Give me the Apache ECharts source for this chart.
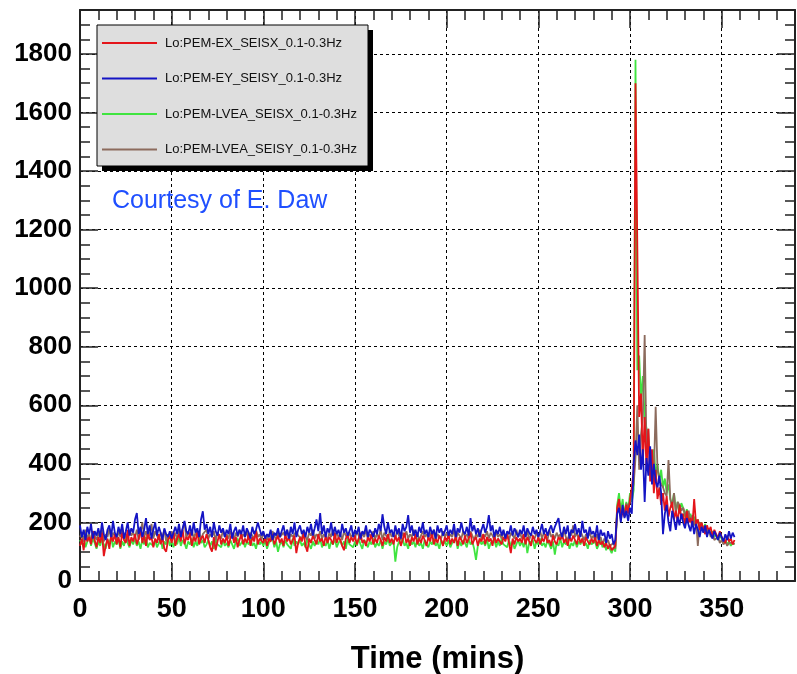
<!DOCTYPE html>
<html>
<head>
<meta charset="utf-8">
<script src="https://cdn.jsdelivr.net/npm/echarts@6/dist/echarts.min.js"></script>
<style>
  html, body { margin: 0; padding: 0; background: #fff; }
  #chart { width: 797px; height: 674px; }
</style>
</head>
<body>
<div id="chart"></div>
<script>
  // one reading per minute, t = 0 .. 357
  const seriesNames = [
    'Lo:PEM-EX_SEISX_0.1-0.3Hz',
    'Lo:PEM-EY_SEISY_0.1-0.3Hz',
    'Lo:PEM-LVEA_SEISX_0.1-0.3Hz',
    'Lo:PEM-LVEA_SEISY_0.1-0.3Hz',
  ];

  const exSeisX = [
    120, 145, 105, 160, 135, 150, 125, 170, 140, 115,
    150, 130, 165, 85, 120, 145, 110, 155, 135, 160,
    125, 150, 115, 165, 140, 130, 175, 120, 150, 135,
    160, 125, 145, 180, 130, 155, 120, 165, 140, 150,
    115, 145, 130, 160, 125, 150, 110, 100, 140, 155,
    130, 165, 120, 145, 160, 135, 175, 125, 150, 140,
    165, 120, 150, 135, 170, 125, 145, 155, 130, 160,
    140, 115, 100, 150, 105, 135, 160, 125, 145, 130,
    155, 120, 145, 165, 130, 150, 115, 140, 160, 125,
    145, 130, 160, 120, 150, 135, 170, 125, 145, 140,
    130, 150, 120, 145, 135, 160, 125, 140, 155, 130,
    145, 120, 160, 135, 150, 125, 140, 155, 95, 130,
    150, 135, 165, 120, 100, 145, 130, 155, 140, 125,
    160, 135, 145, 120, 155, 130, 150, 140, 125, 165,
    130, 150, 140, 120, 105, 145, 160, 130, 150, 135,
    155, 125, 145, 165, 130, 140, 120, 150, 135, 160,
    125, 145, 130, 155, 140, 120, 150, 135, 160, 130,
    145, 125, 155, 135, 150, 120, 140, 165, 130, 145,
    120, 150, 135, 160, 125, 145, 130, 155, 140, 120,
    150, 135, 165, 125, 145, 130, 155, 140, 120, 150,
    135, 160, 125, 145, 130, 155, 120, 150, 140, 125,
    155, 130, 145, 165, 125, 140, 150, 120, 145, 135,
    160, 125, 150, 135, 145, 120, 155, 130, 145, 140,
    125, 150, 135, 160, 130, 95, 145, 125, 150, 135,
    145, 130, 160, 125, 150, 135, 120, 155, 140, 130,
    150, 125, 145, 135, 160, 130, 140, 120, 155, 135,
    125, 150, 140, 160, 130, 145, 120, 150, 135, 155,
    140, 125, 155, 130, 145, 120, 150, 135, 125, 145,
    130, 150, 120, 140, 125, 135, 115, 130, 110, 125,
    105, 100, 120, 250, 280, 210, 240, 220, 260, 230,
    280, 320, 380, 1700, 1140, 560, 640, 400, 560, 380,
    520, 340, 450, 300, 380, 280, 320, 260, 300, 240,
    290, 220, 250, 270, 210, 240, 200, 260, 215, 230,
    190, 240, 200, 215, 185, 280, 195, 210, 175, 200,
    180, 160, 190, 170, 185, 150, 175, 160, 145, 170,
    150, 140, 130, 155, 135, 145, 125, 140,
  ];

  const eySeisY = [
    190, 150, 175, 140, 185, 160, 195, 145, 170, 155,
    180, 150, 200, 160, 140, 175, 190, 150, 205, 165,
    150, 185, 160, 195, 145, 170, 200, 155, 180, 165,
    210, 232, 160, 185, 150, 175, 215, 160, 190, 145,
    175, 200, 155, 185, 165, 140, 180, 160, 150, 170,
    145, 165, 185, 160, 195, 150, 180, 205, 170, 160,
    190, 155, 200, 165, 180, 150, 210, 238, 175, 195,
    160, 185, 150, 200, 170, 155, 190, 165, 180, 150,
    175, 160, 195, 145, 170, 185, 155, 175, 160, 190,
    150, 180, 165, 145, 185, 160, 175, 200, 195, 155,
    170, 145, 160, 150, 175, 140, 165, 155, 180, 150,
    170, 190, 155, 175, 145, 185, 160, 200, 150, 175,
    190, 160, 175, 150, 185, 165, 195, 155, 180, 210,
    170, 232, 160, 190, 150, 180, 165, 200, 155, 185,
    160, 175, 150, 195, 165, 180, 155, 170, 190, 150,
    175, 160, 185, 145, 170, 160, 190, 150, 175, 165,
    150, 180, 160, 195, 170, 228, 185, 160, 200, 165,
    175, 150, 190, 160, 180, 145, 195, 170, 185, 225,
    165, 190, 155, 175, 150, 185, 165, 200, 160, 175,
    150, 185, 160, 175, 145, 190, 165, 180, 155, 170,
    190, 155, 175, 160, 195, 150, 180, 165, 200, 170,
    160, 185, 155, 215, 170, 190, 160, 180, 150, 175,
    195, 165, 185, 225, 170, 190, 150, 175, 160, 185,
    155, 175, 145, 170, 160, 190, 155, 180, 165, 150,
    175, 160, 190, 150, 180, 165, 155, 185, 160, 175,
    150, 170, 195, 160, 180, 155, 175, 190, 165, 185,
    200, 215, 170, 150, 185, 160, 190, 145, 175, 165,
    195, 160, 180, 150, 205, 165, 175, 145, 185, 160,
    170, 150, 190, 140, 175, 155, 165, 130, 170, 145,
    160, 125, 140, 230, 250, 200, 260, 215, 240, 205,
    250, 230, 400, 480, 430, 500, 380, 450, 270, 420,
    360, 460, 330, 400, 340, 320, 360, 300, 160, 230,
    260, 200, 170, 240, 210, 175, 220, 190, 230, 200,
    180, 215, 190, 170, 205, 160, 195, 175, 150, 185,
    165, 190, 150, 175, 160, 145, 170, 155, 140, 165,
    150, 135, 160, 140, 170, 145, 165, 150,
  ];

  const lveaSeisX = [
    140, 125, 150, 115, 135, 160, 120, 145, 130, 110,
    135, 120, 145, 125, 110, 140, 130, 150, 115, 135,
    125, 145, 110, 135, 120, 150, 130, 115, 140, 125,
    145, 120, 135, 110, 140, 125, 150, 115, 130, 135,
    120, 140, 115, 130, 145, 110, 135, 125, 150, 120,
    135, 115, 145, 125, 150, 120, 140, 130, 110, 135,
    125, 145, 115, 135, 120, 150, 130, 140, 115, 125,
    140, 120, 135, 110, 145, 125, 130, 115, 140, 120,
    130, 115, 140, 125, 110, 135, 145, 120, 130, 140,
    115, 135, 125, 145, 120, 130, 110, 140, 125, 135,
    120, 140, 110, 130, 125, 145, 115, 135, 100, 125,
    135, 115, 140, 125, 130, 110, 145, 120, 135, 125,
    140, 120, 130, 115, 145, 125, 110, 135, 120, 140,
    125, 145, 115, 130, 120, 140, 110, 135, 125, 145,
    115, 130, 140, 120, 135, 110, 145, 125, 130, 115,
    135, 120, 145, 125, 110, 140, 130, 115, 135, 125,
    145, 115, 130, 120, 140, 110, 135, 125, 145, 120,
    130, 140, 66, 115, 135, 125, 145, 120, 130, 110,
    140, 125, 135, 115, 145, 120, 130, 110, 140, 125,
    115, 135, 125, 145, 120, 130, 110, 140, 125, 135,
    120, 140, 115, 130, 125, 145, 110, 135, 120, 140,
    130, 115, 145, 125, 135, 110, 72, 120, 140, 125,
    135, 120, 145, 110, 130, 125, 140, 115, 135, 120,
    145, 125, 130, 115, 140, 120, 135, 110, 125, 140,
    120, 135, 115, 145, 95, 130, 125, 140, 110, 135,
    125, 145, 120, 130, 115, 140, 125, 110, 135, 90,
    130, 120, 145, 115, 135, 125, 140, 110, 130, 120,
    140, 115, 135, 125, 145, 120, 130, 110, 140, 125,
    120, 135, 110, 125, 140, 115, 130, 105, 120, 110,
    95, 115, 100, 260, 300, 240, 280, 220, 270, 240,
    300, 270, 310, 1780, 720, 770, 620, 700, 560, 520,
    480, 420, 380, 450, 360, 400, 340, 380, 320, 350,
    300, 330, 280, 260, 300, 240, 270, 230, 266, 250,
    220, 245, 210, 230, 200, 220, 190, 210, 185, 200,
    175, 195, 165, 180, 160, 170, 150, 160, 140, 155,
    145, 130, 140, 125, 135, 120, 130, 125,
  ];

  const lveaSeisY = [
    150, 165, 135, 175, 145, 160, 130, 170, 155, 140,
    165, 145, 175, 135, 160, 150, 180, 140, 165, 155,
    140, 170, 150, 185, 145, 160, 135, 175, 155, 165,
    150, 175, 140, 165, 200, 150, 170, 145, 160, 195,
    145, 170, 155, 140, 165, 150, 175, 135, 160, 145,
    170, 150, 165, 140, 175, 155, 160, 200, 145, 170,
    155, 175, 145, 165, 150, 170, 140, 160, 155, 175,
    145, 160, 150, 170, 140, 165, 155, 145, 175, 150,
    160, 145, 170, 155, 140, 165, 150, 175, 145, 160,
    150, 170, 140, 165, 155, 145, 175, 150, 160, 140,
    165, 150, 140, 160, 145, 170, 155, 140, 165, 150,
    145, 165, 150, 175, 140, 160, 150, 145, 170, 155,
    160, 145, 170, 150, 140, 165, 155, 175, 145, 160,
    150, 170, 145, 160, 155, 140, 165, 150, 175, 145,
    165, 150, 160, 140, 170, 155, 145, 165, 150, 160,
    145, 170, 155, 140, 165, 150, 175, 145, 160, 150,
    170, 145, 160, 150, 175, 140, 165, 155, 145, 170,
    150, 160, 145, 175, 155, 140, 165, 150, 170, 145,
    160, 150, 175, 145, 165, 140, 155, 170, 150, 160,
    145, 165, 150, 175, 140, 160, 155, 145, 170, 150,
    165, 145, 160, 150, 175, 140, 165, 155, 145, 170,
    150, 160, 145, 170, 155, 140, 160, 150, 175, 145,
    160, 150, 170, 145, 165, 155, 140, 170, 150, 160,
    145, 170, 150, 160, 140, 165, 155, 145, 175, 150,
    165, 145, 160, 150, 170, 140, 160, 155, 145, 165,
    150, 170, 145, 165, 155, 140, 175, 150, 160, 145,
    165, 150, 160, 145, 175, 150, 140, 165, 155, 190,
    150, 165, 145, 170, 155, 140, 160, 150, 165, 145,
    155, 140, 160, 135, 150, 125, 145, 130, 140, 120,
    115, 130, 110, 240, 270, 220, 250, 230, 265, 250,
    270, 300, 330, 420, 600, 380, 500, 560, 840, 450,
    520, 380, 420, 360, 595, 380, 350, 330, 320, 300,
    290, 413, 280, 250, 300, 230, 270, 260, 240, 250,
    230, 215, 240, 200, 225, 190, 210, 120, 200, 185,
    170, 190, 160, 175, 150, 165, 140, 135, 150, 130,
    140, 125, 135, 120, 130, 125, 130, 125,
  ];

  const xTicks = [0, 50, 100, 150, 200, 250, 300, 350];
  const yTicks = [0, 200, 400, 600, 800, 1000, 1200, 1400, 1600, 1800];

  const colors = ['#e4151a', '#1414c4', '#3fe43f', '#8c6b5d'];

  const toPairs = (vals) => vals.map((v, i) => [i, v]);

  const X_MAX = 390;
  const Y_MAX = 1950;
  const axisColor = '#222';
  const labelFont = {
    color: '#000',
    fontFamily: 'Liberation Sans, Arial, sans-serif',
    fontWeight: 'bold',
    fontSize: 26,
  };

  const chart = echarts.init(document.getElementById('chart'));

  // every axis keeps onZero off, otherwise the top/right copies jump to the zero line
  const frameLine = { show: true, onZero: false, lineStyle: { color: axisColor, width: 2 } };
  const noLine = { show: false, onZero: false };
  const tick = (len) => ({ inside: true, length: len, lineStyle: { color: axisColor, width: 1.5 } });

  const xBase = {
    type: 'value',
    min: 0,
    max: X_MAX,
    splitLine: { show: false },
    axisLabel: { show: false },
  };
  const yBase = {
    type: 'value',
    min: 0,
    max: Y_MAX,
    splitLine: { show: false },
    axisLabel: { show: false },
  };

  const option = {
    animation: false,
    backgroundColor: '#fff',
    grid: { left: 80, top: 10, right: 2, bottom: 93, containLabel: false, outerBoundsMode: 'none' },
    xAxis: [
      {
        ...xBase,
        position: 'bottom',
        interval: 50,
        axisLine: frameLine,
        axisTick: tick(18),
        splitLine: { show: true, lineStyle: { color: '#000', width: 1, type: [3, 3] } },
        axisLabel: {
          ...labelFont,
          fontSize: 27,
          margin: 15,
          formatter: (v) => (xTicks.includes(v) ? String(v) : ''),
        },
        name: 'Time (mins)',
        nameLocation: 'middle',
        nameGap: 63,
        nameTextStyle: { ...labelFont, fontSize: 31 },
      },
      { ...xBase, position: 'bottom', interval: 10, axisLine: noLine, axisTick: tick(10) },
      { ...xBase, position: 'top', interval: 50, axisLine: frameLine, axisTick: tick(18) },
      { ...xBase, position: 'top', interval: 10, axisLine: noLine, axisTick: tick(10) },
    ],
    yAxis: [
      {
        ...yBase,
        position: 'left',
        interval: 200,
        axisLine: frameLine,
        axisTick: tick(18),
        splitLine: { show: true, lineStyle: { color: '#000', width: 1, type: [3, 3] } },
        axisLabel: {
          ...labelFont,
          margin: 8,
          formatter: (v) => (yTicks.includes(v) ? String(v) : ''),
        },
      },
      { ...yBase, position: 'left', interval: 50, axisLine: noLine, axisTick: tick(10) },
      { ...yBase, position: 'right', interval: 200, axisLine: frameLine, axisTick: tick(18) },
      { ...yBase, position: 'right', interval: 50, axisLine: noLine, axisTick: tick(10) },
    ],
    legend: {
      orient: 'vertical',
      left: 97,
      top: 25,
      z: 10,
      padding: [11, 0, 0, 5],
      itemGap: 21.5,
      itemWidth: 55,
      itemHeight: 2,
      icon: 'rect',
      data: seriesNames,
      textStyle: {
        color: '#111',
        fontFamily: 'Liberation Sans, Arial, sans-serif',
        fontSize: 13,
        lineHeight: 14,
        padding: [0, 0, 0, 3],
      },
    },
    graphic: [
      // legend box with its dark drop shadow
      {
        type: 'rect',
        z: 5,
        shape: { x: 102, y: 30, width: 271, height: 141 },
        style: { fill: '#000' },
      },
      {
        type: 'rect',
        z: 6,
        shape: { x: 97, y: 25, width: 271, height: 141 },
        style: { fill: '#dedede', stroke: '#000', lineWidth: 1 },
      },
      {
        type: 'text',
        z: 6,
        left: 112,
        top: 189,
        style: {
          text: 'Courtesy of E. Daw',
          fill: '#1f4fff',
          font: '25px "Liberation Sans", Arial, sans-serif',
        },
      },
    ],
    series: [
      { name: seriesNames[2], data: toPairs(lveaSeisX), color: colors[2] },
      { name: seriesNames[3], data: toPairs(lveaSeisY), color: colors[3] },
      { name: seriesNames[0], data: toPairs(exSeisX), color: colors[0] },
      { name: seriesNames[1], data: toPairs(eySeisY), color: colors[1] },
    ].map((s) => ({
      ...s,
      type: 'line',
      xAxisIndex: 0,
      yAxisIndex: 0,
      showSymbol: false,
      symbol: 'none',
      lineStyle: { width: 1.8, color: s.color },
      itemStyle: { color: s.color },
    })),
  };

  chart.setOption(option);
</script>
</body>
</html>
